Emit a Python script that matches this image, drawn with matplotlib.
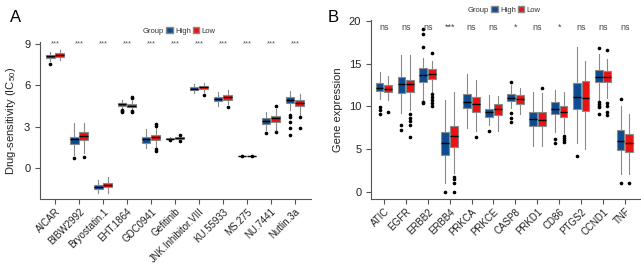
import matplotlib
matplotlib.use("Agg")
import matplotlib.pyplot as plt
from matplotlib.patches import Patch

plt.rcParams['font.family'] = ['Liberation Sans', 'DejaVu Sans']
plt.rcParams['mathtext.default'] = 'regular'

# ---------------- Panel A data (drug sensitivity, IC50) ----------------
drugs = ["AICAR", "BIBW2992", "Bryostatin.1", "EHT.1864", "GDC0941", "Gefitinib",
         "JNK.Inhibitor.VIII", "KU.55933", "MS.275", "NU.7441", "Nutlin.3a"]
drug_sig = ["***"] * 11
a_high_med = [8.08, 2.08, -1.35, 4.64, 2.08, 2.12, 5.75, 5.02, 0.88, 3.43, 4.93]
a_high_q1 = [7.95, 1.74, -1.52, 4.49, 1.84, 2.08, 5.64, 4.86, 0.86, 3.19, 4.69]
a_high_q3 = [8.22, 2.27, -1.23, 4.73, 2.27, 2.17, 5.85, 5.17, 0.90, 3.60, 5.12]
a_high_lo = [7.72, 0.94, -1.79, 4.22, 1.43, 2.02, 5.41, 4.49, 0.82, 2.75, 4.20]
a_high_hi = [8.43, 3.28, -0.87, 4.93, 2.83, 2.22, 6.09, 5.51, 0.94, 4.06, 5.58]
a_high_out = [[7.55], [0.70], [], [4.05, 4.12, 4.18], [], [2.02], [], [], [0.88], [2.54],
              [3.84, 3.72, 3.36, 2.88, 2.40]]
a_low_med = [8.19, 2.32, -1.21, 4.52, 2.27, 2.18, 5.85, 5.12, 0.88, 3.60, 4.73]
a_low_q1 = [8.02, 2.03, -1.40, 4.40, 2.03, 2.12, 5.70, 4.93, 0.86, 3.36, 4.49]
a_low_q3 = [8.31, 2.61, -1.06, 4.64, 2.41, 2.24, 5.94, 5.27, 0.90, 3.77, 4.93]
a_low_lo = [7.83, 1.06, -1.79, 4.22, 1.55, 1.95, 5.51, 4.64, 0.82, 2.75, 3.84]
a_low_hi = [8.55, 3.28, -0.68, 4.88, 3.00, 2.35, 6.18, 5.65, 0.94, 4.25, 5.36]
a_low_out = [[], [0.82], [], [4.05, 4.15, 5.05, 5.15], [3.05, 3.20, 1.40, 1.25], [1.95, 2.37],
             [5.31], [4.44], [0.88], [4.49, 2.58], [3.72, 2.88]]

# ---------------- Panel B data (gene expression) ----------------
genes = ["ATIC", "EGFR", "ERBB2", "ERBB4", "PRKCA", "PRKCE", "CASP8", "PRKD1",
         "CD86", "PTGS2", "CCND1", "TNF"]
gene_sig = ["ns", "ns", "ns", "***", "ns", "ns", "*", "ns", "*", "ns", "ns", "ns"]
b_high_med = [12.21, 12.61, 13.70, 5.70, 10.50, 9.40, 10.97, 8.55, 9.72, 11.09, 13.43, 6.01]
b_high_q1 = [11.75, 11.56, 12.90, 4.33, 9.80, 8.82, 10.58, 7.77, 9.10, 9.72, 12.84, 4.92]
b_high_q3 = [12.73, 13.40, 14.48, 7.06, 11.44, 9.68, 11.44, 9.40, 10.50, 12.73, 14.29, 7.26]
b_high_lo = [10.90, 9.20, 10.80, 1.00, 7.46, 7.85, 9.80, 5.42, 7.00, 5.70, 10.66, 2.07]
b_high_hi = [14.00, 16.04, 15.65, 10.77, 13.78, 11.36, 12.53, 11.67, 11.94, 16.94, 16.12, 10.10]
b_high_out = [[9.9, 9.6, 9.1], [7.8, 7.3], [19.05, 18.5, 17.0, 10.5, 10.35], [0.0], [], [7.14],
              [12.9, 9.2, 8.7, 8.2], [], [6.2, 5.7], [4.25], [16.8, 10.5, 10.3, 10.1, 9.9, 9.1],
              [10.89, 1.0]]
b_low_med = [12.06, 12.60, 13.78, 6.60, 10.30, 9.68, 10.85, 8.43, 9.40, 11.04, 13.43, 5.70]
b_low_q1 = [11.67, 11.67, 13.20, 5.31, 9.33, 9.02, 10.27, 7.77, 8.75, 9.52, 12.80, 4.72]
b_low_q3 = [12.53, 13.10, 14.40, 7.77, 11.09, 10.27, 11.28, 9.40, 10.10, 12.92, 14.09, 6.76]
b_low_lo = [10.77, 9.60, 11.56, 2.20, 7.14, 7.14, 9.10, 5.42, 6.87, 5.04, 10.97, 2.07]
b_low_hi = [13.60, 16.00, 15.26, 11.67, 13.10, 11.16, 12.20, 11.60, 11.67, 15.34, 15.57, 9.10]
b_low_out = [[9.4], [9.1, 8.7, 8.3, 7.8, 6.4], [16.24, 11.4, 11.1, 10.8, 10.4, 10.1],
             [1.7, 1.5, 1.0, 0.0], [6.48], [], [], [12.2], [6.5, 6.3, 6.1, 5.9], [],
             [16.63, 10.4, 10.0, 9.3, 9.0], [1.0]]

group_labels = ["High", "Low"]
col_high = "#0E4C92"
col_low = "#EE1111"
edge_col = "#8A8A8A"


def make_stats(med, q1, q3, lo, hi, out):
    return [dict(med=m, q1=a, q3=b, whislo=l, whishi=h, fliers=o)
            for m, a, b, l, h, o in zip(med, q1, q3, lo, hi, out)]


def draw_group(ax, stats, positions, color):
    ax.bxp(stats, positions=positions, widths=0.36, patch_artist=True,
           showcaps=False, manage_ticks=False,
           boxprops=dict(facecolor=color, edgecolor=edge_col, linewidth=0.8),
           whiskerprops=dict(color=edge_col, linewidth=0.8),
           medianprops=dict(color="black", linewidth=1.0),
           flierprops=dict(marker='o', markersize=1.6, markerfacecolor='black',
                           markeredgecolor='black', linestyle='none'))


def style_axes(ax, labels, ylabel, yticks):
    for s in ["top", "right"]:
        ax.spines[s].set_visible(False)
    for s in ["left", "bottom"]:
        ax.spines[s].set_color("#555555")
        ax.spines[s].set_linewidth(0.8)
    ax.set_xticks(range(len(labels)))
    ax.set_xticklabels(labels, rotation=45, ha='right', rotation_mode='anchor', fontsize=7,
                       color="#222222")
    ax.set_yticks(yticks)
    ax.tick_params(axis='both', direction='out', length=3.5, width=0.8, color="#555555",
                   labelsize=8, labelcolor="#222222")
    ax.tick_params(axis='x', pad=2, labelsize=7)
    ax.set_ylabel(ylabel, fontsize=8, color="#222222", labelpad=4)


fig = plt.figure(figsize=(6.41, 2.66), dpi=100)

# ----- Panel A -----
axA = fig.add_axes([40 / 641, 67 / 266, 271 / 641, 157 / 266])
n = len(drugs)
draw_group(axA, make_stats(a_high_med, a_high_q1, a_high_q3, a_high_lo, a_high_hi, a_high_out),
           [i - 0.2 for i in range(n)], col_high)
draw_group(axA, make_stats(a_low_med, a_low_q1, a_low_q3, a_low_lo, a_low_hi, a_low_out),
           [i + 0.2 for i in range(n)], col_low)
axA.set_xlim(-0.625, 10.67)
axA.set_ylim(-2.25, 9.13)
style_axes(axA, drugs, "Drug-sensitivity (IC$_{50}$)", [0, 3, 6, 9])
for i, s in enumerate(drug_sig):
    axA.text(i, 9.0, s, ha='center', va='center', fontsize=5.5, color="#555555")

# ----- Panel B -----
axB = fig.add_axes([371 / 641, 67 / 266, 269 / 641, 179 / 266])
m = len(genes)
draw_group(axB, make_stats(b_high_med, b_high_q1, b_high_q3, b_high_lo, b_high_hi, b_high_out),
           [i - 0.2 for i in range(m)], col_high)
draw_group(axB, make_stats(b_low_med, b_low_q1, b_low_q3, b_low_lo, b_low_hi, b_low_out),
           [i + 0.2 for i in range(m)], col_low)
axB.set_xlim(-0.59, 11.69)
axB.set_ylim(-0.82, 20.1)
style_axes(axB, genes, "Gene expression", [0, 5, 10, 15, 20])
for i, s in enumerate(gene_sig):
    axB.text(i, 19.2, s, ha='center', va='center', fontsize=6.5, color="#444444")

# ----- Panel letters -----
fig.text(10 / 641, 1 - 18 / 266, "A", fontsize=12, va='center', ha='left')
fig.text(328 / 641, 1 - 18 / 266, "B", fontsize=12, va='center', ha='left')

# ----- Legends -----
handles = [Patch(visible=False), Patch(facecolor=col_high, edgecolor=edge_col),
           Patch(facecolor=col_low, edgecolor=edge_col)]
labels = ["Group"] + group_labels
for x, y in [(175 / 641, 1 - 31 / 266), (500 / 641, 1 - 10 / 266)]:
    fig.legend(handles, labels, ncol=3, loc='center', bbox_to_anchor=(x, y), frameon=False,
               fontsize=5.5, handlelength=0.8, handleheight=0.8, handletextpad=0.3,
               columnspacing=0.3, borderpad=0, labelcolor="#333333")

fig.savefig("out.png", dpi=100)
